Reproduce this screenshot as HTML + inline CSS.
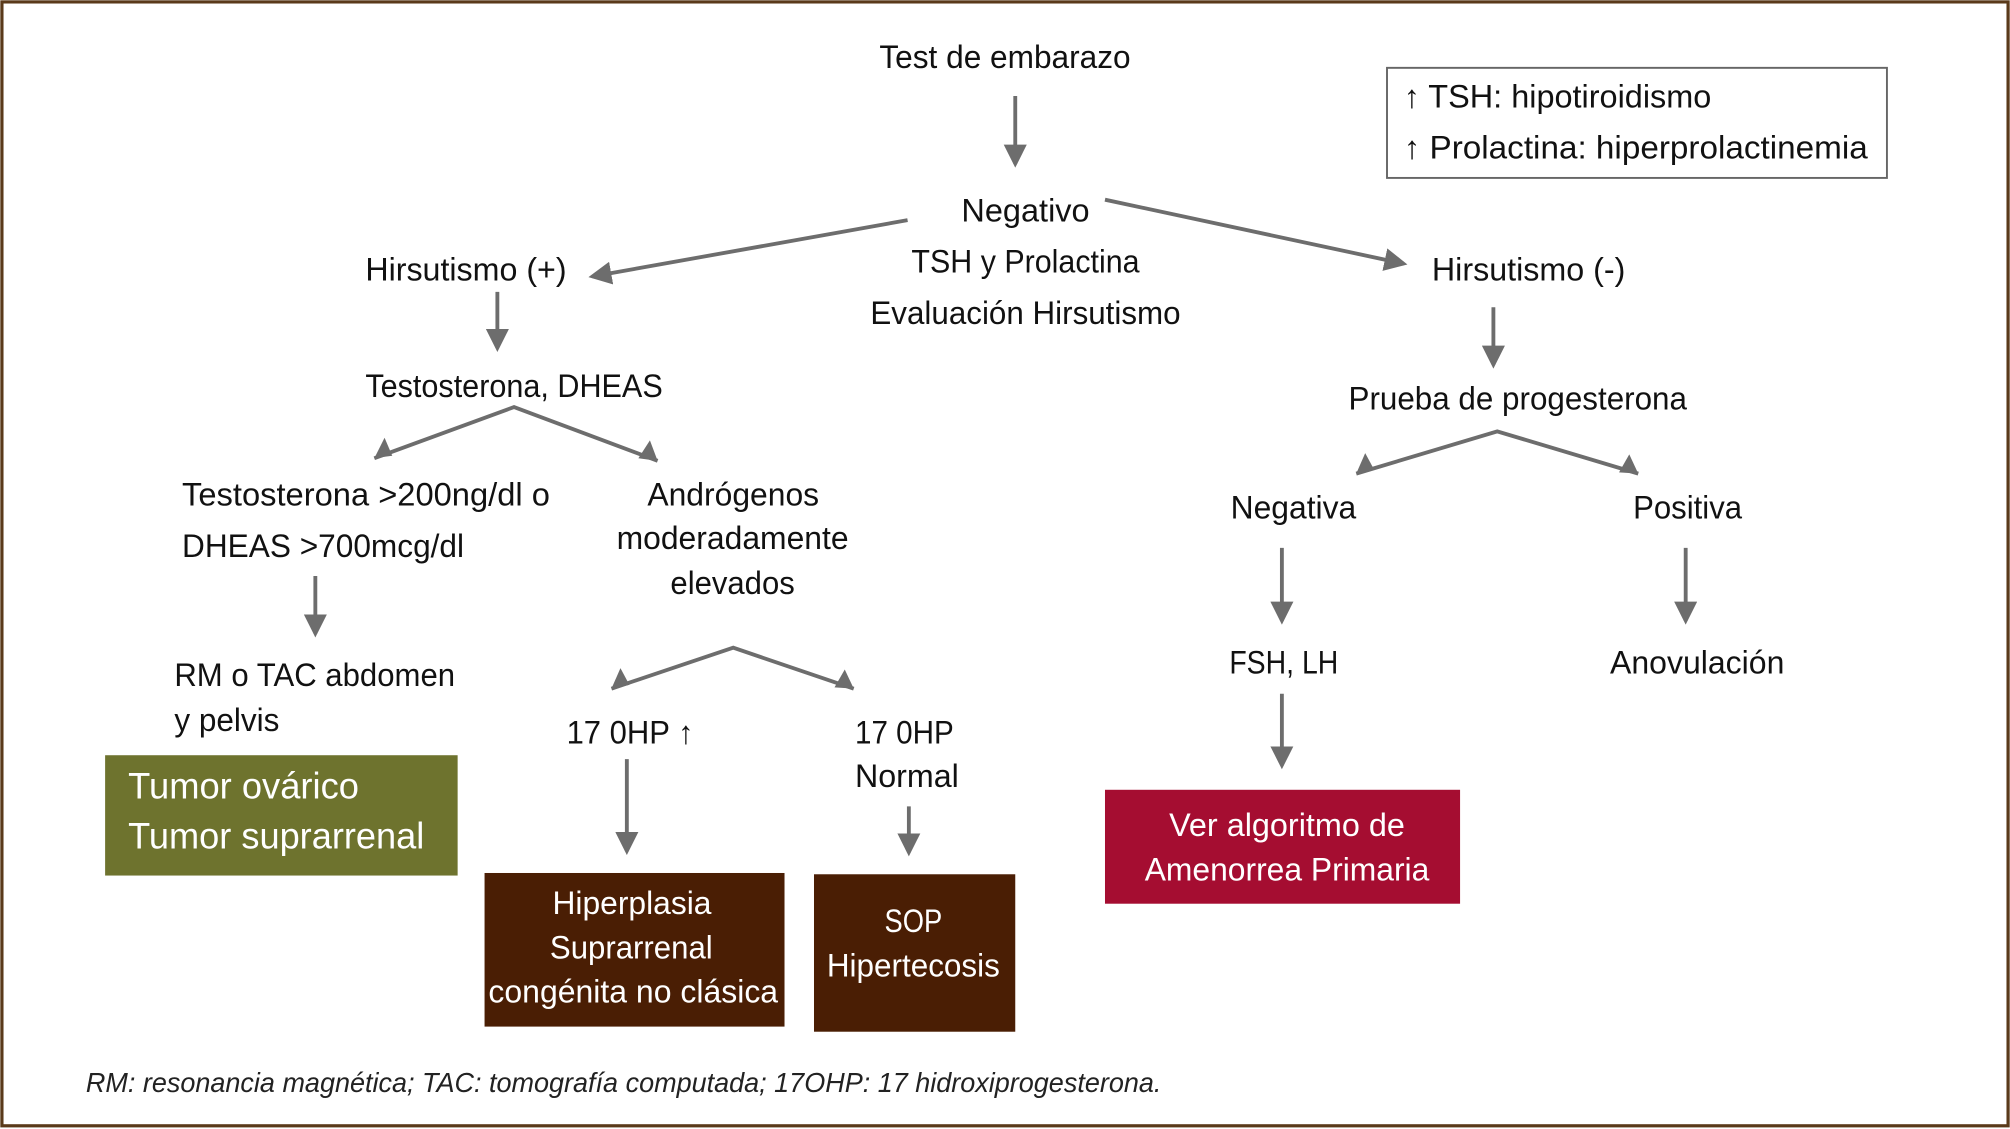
<!DOCTYPE html>
<html><head><meta charset="utf-8"><style>
html,body{margin:0;padding:0;background:#fff}
svg{display:block}
text{font-family:"Liberation Sans Narrow","Liberation Sans",sans-serif;font-size:25px;fill:#111}
.w{fill:#fff}
</style></head><body>
<svg width="2010" height="1129" viewBox="0 0 1568 882" preserveAspectRatio="none" xmlns="http://www.w3.org/2000/svg">
<defs>
<marker id="a" markerWidth="6" markerHeight="6" refX="5" refY="3" orient="auto" markerUnits="strokeWidth">
<path d="M0,0 L6,3 L0,6 z" fill="#6d6d6d"/>
</marker>
</defs>
<rect x="1.5" y="1.5" width="1565" height="878" fill="#fff" stroke="#5a3a1a" stroke-width="2.5"/>
<g stroke="#6d6d6d" stroke-width="3" fill="none" marker-end="url(#a)">
<line x1="792" y1="75" x2="792" y2="128"/>
<line x1="708" y1="172" x2="462" y2="216"/>
<line x1="862" y1="156" x2="1095" y2="206"/>
<line x1="388" y1="228" x2="388" y2="272"/>
<line x1="1165" y1="240" x2="1165" y2="285"/>
<line x1="246" y1="450" x2="246" y2="495"/>
<line x1="489" y1="593" x2="489" y2="665"/>
<line x1="709" y1="630" x2="709" y2="666"/>
<line x1="1000" y1="428" x2="1000" y2="485"/>
<line x1="1315" y1="428" x2="1315" y2="485"/>
<line x1="1000" y1="542" x2="1000" y2="598"/>
</g>
<g stroke="#6d6d6d" stroke-width="3" fill="none">
<polyline points="292,358 401,318 513,360" stroke-linejoin="miter"/>
<polyline points="477,538 572,506 666,538"/>
<polyline points="1058,370 1168,337 1278,370"/>
</g>
<g fill="#6d6d6d">
<path d="M292,358 l8,-16 l6,14 z"/><path d="M513,360 l-15,-2 l9,-14 z"/>
<path d="M477,538 l7,-16 l7,13 z"/><path d="M666,538 l-15,-1 l8,-14 z"/>
<path d="M1058,370 l7,-16 l7,13 z"/><path d="M1278,370 l-15,-1 l8,-14 z"/>
</g>
<rect x="1082" y="53" width="390" height="86" fill="#fff" stroke="#666" stroke-width="1.5"/>
<text x="1095" y="84" textLength="240" lengthAdjust="spacingAndGlyphs">↑ TSH: hipotiroidismo</text>
<text x="1095" y="124" textLength="362" lengthAdjust="spacingAndGlyphs">↑  Prolactina: hiperprolactinemia</text>
<text x="686" y="53" textLength="196" lengthAdjust="spacingAndGlyphs">Test de embarazo</text>
<text x="750" y="173" textLength="100" lengthAdjust="spacingAndGlyphs">Negativo</text>
<text x="711" y="213" textLength="178" lengthAdjust="spacingAndGlyphs">TSH y Prolactina</text>
<text x="679" y="253" textLength="242" lengthAdjust="spacingAndGlyphs">Evaluación Hirsutismo</text>
<text x="285" y="219" textLength="157" lengthAdjust="spacingAndGlyphs">Hirsutismo (+)</text>
<text x="285" y="310" textLength="232" lengthAdjust="spacingAndGlyphs">Testosterona, DHEAS</text>
<text x="142" y="395" textLength="287" lengthAdjust="spacingAndGlyphs">Testosterona &gt;200ng/dl o</text>
<text x="142" y="435" textLength="220" lengthAdjust="spacingAndGlyphs">DHEAS &gt;700mcg/dl</text>
<text x="505" y="395" textLength="134" lengthAdjust="spacingAndGlyphs">Andrógenos</text>
<text x="481" y="429" textLength="181" lengthAdjust="spacingAndGlyphs">moderadamente</text>
<text x="523" y="464" textLength="97" lengthAdjust="spacingAndGlyphs">elevados</text>
<text x="136" y="536" textLength="219" lengthAdjust="spacingAndGlyphs">RM o TAC abdomen</text>
<text x="136" y="571" textLength="82" lengthAdjust="spacingAndGlyphs">y pelvis</text>
<rect x="82" y="590" width="275" height="94" fill="#6e732e"/>
<text class="w" x="100" y="624" style="font-size:29px" textLength="180" lengthAdjust="spacingAndGlyphs">Tumor ovárico</text>
<text class="w" x="100" y="663" style="font-size:29px" textLength="231" lengthAdjust="spacingAndGlyphs">Tumor suprarrenal</text>
<text x="442" y="581" textLength="99" lengthAdjust="spacingAndGlyphs">17 0HP ↑</text>
<text x="667" y="581" textLength="77" lengthAdjust="spacingAndGlyphs">17 0HP</text>
<text x="667" y="615" textLength="81" lengthAdjust="spacingAndGlyphs">Normal</text>
<rect x="378" y="682" width="234" height="120" fill="#4a1e04"/>
<text class="w" x="431" y="714" textLength="124" lengthAdjust="spacingAndGlyphs">Hiperplasia</text>
<text class="w" x="429" y="749" textLength="127" lengthAdjust="spacingAndGlyphs">Suprarrenal</text>
<text class="w" x="381" y="783" textLength="226" lengthAdjust="spacingAndGlyphs">congénita no clásica</text>
<rect x="635" y="683" width="157" height="123" fill="#4a1e04"/>
<text class="w" x="690" y="728" textLength="45" lengthAdjust="spacingAndGlyphs">SOP</text>
<text class="w" x="645" y="763" textLength="135" lengthAdjust="spacingAndGlyphs">Hipertecosis</text>
<text x="1117" y="219" textLength="151" lengthAdjust="spacingAndGlyphs">Hirsutismo (-)</text>
<text x="1052" y="320" textLength="264" lengthAdjust="spacingAndGlyphs">Prueba de progesterona</text>
<text x="960" y="405" textLength="98" lengthAdjust="spacingAndGlyphs">Negativa</text>
<text x="1274" y="405" textLength="85" lengthAdjust="spacingAndGlyphs">Positiva</text>
<text x="959" y="526" textLength="85" lengthAdjust="spacingAndGlyphs">FSH, LH</text>
<text x="1256" y="526" textLength="136" lengthAdjust="spacingAndGlyphs">Anovulación</text>
<rect x="862" y="617" width="277" height="89" fill="#a50d31"/>
<text class="w" x="912" y="653" textLength="184" lengthAdjust="spacingAndGlyphs">Ver algoritmo de</text>
<text class="w" x="893" y="688" textLength="222" lengthAdjust="spacingAndGlyphs">Amenorrea Primaria</text>
<text x="67" y="853" style="font-size:22px;font-style:italic;fill:#222" textLength="839" lengthAdjust="spacingAndGlyphs">RM: resonancia magnética; TAC: tomografía computada; 17OHP: 17 hidroxiprogesterona.</text>
</svg>
</body></html>
